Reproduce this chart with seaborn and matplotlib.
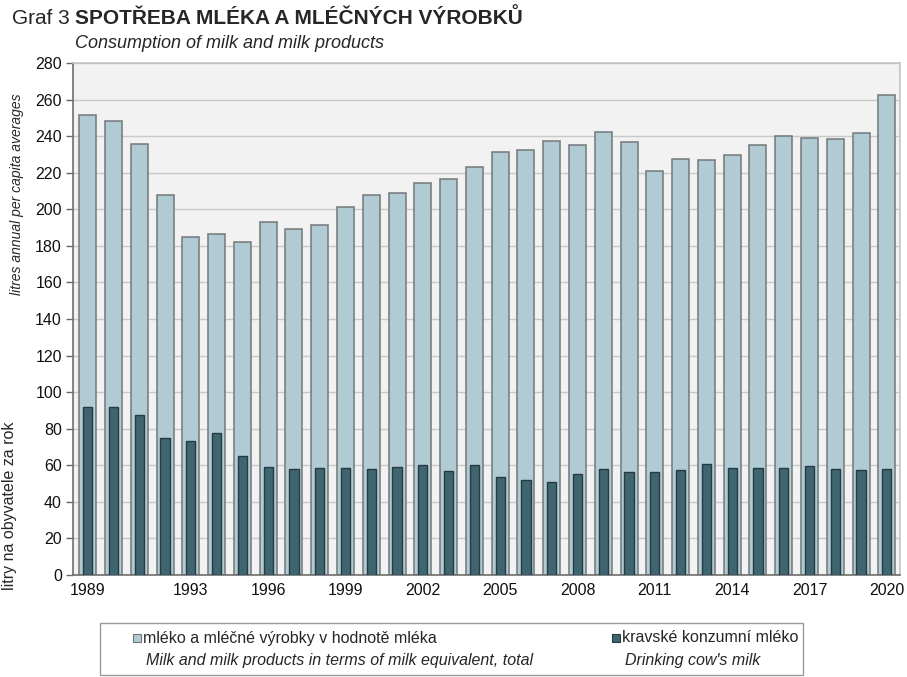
import matplotlib.pyplot as plt
import matplotlib.patches as mpatches
from matplotlib.ticker import FixedLocator, NullFormatter
import seaborn as sns
import pandas as pd

years = list(range(1989, 2021))
milk_total = [251.6, 248.4, 235.5, 207.6, 184.6, 186.2, 182.0, 193.0, 189.4, 191.2,
              201.1, 207.6, 208.7, 214.1, 216.7, 222.9, 231.3, 232.2, 237.3, 235.3,
              242.2, 236.8, 221.0, 227.6, 227.2, 229.5, 235.1, 240.0, 239.0, 238.5,
              241.8, 262.6]
drinking_milk = [91.7, 91.7, 87.7, 74.7, 73.0, 77.8, 65.0, 58.9, 58.0, 58.5,
                 58.4, 57.7, 58.8, 60.4, 56.7, 60.0, 53.8, 52.2, 50.7, 55.3,
                 58.2, 56.2, 56.2, 57.3, 60.6, 58.4, 58.6, 58.6, 59.5, 57.9,
                 57.3, 57.7]
shown_years = [1989, 1993, 1996, 1999, 2002, 2005, 2008, 2011, 2014, 2017, 2020]

label_total_cz = 'mléko a mléčné výrobky v hodnotě mléka'
label_total_en = 'Milk and milk products in terms of milk equivalent, total'
label_drink_cz = 'kravské konzumní mléko'
label_drink_en = "Drinking cow's milk"

light = '#b1cbd4'
dark = '#3e6570'

df = pd.DataFrame({'year': [str(y) for y in years],
                   'total': milk_total, 'drink': drinking_milk})

sns.set_style('white')
plt.rcParams['font.family'] = ['Liberation Sans', 'DejaVu Sans']

fig = plt.figure(figsize=(9.07, 6.77), dpi=100)
ax = fig.add_axes([0.0805, 0.1507, 0.9115, 0.7563])
ax.set_facecolor('#f2f2f2')

sns.barplot(data=df, x='year', y='total', color=light, width=0.66,
            edgecolor='#737879', linewidth=1.1, saturation=1, ax=ax, zorder=2)
sns.barplot(data=df, x='year', y='drink', color=dark, width=0.36,
            edgecolor='#263a40', linewidth=1.0, saturation=1, ax=ax, zorder=3)

ax.set_ylim(0, 280)
ax.set_yticks(range(0, 281, 20))
ax.set_xlim(-0.57, 31.5)
ax.grid(axis='y', color='#c9c9c9', linewidth=1, zorder=0)
ax.set_axisbelow(True)

# labels only for selected years, tick marks at bar boundaries
ax.set_xticks([years.index(y) for y in shown_years])
ax.set_xticklabels([str(y) for y in shown_years])
ax.xaxis.set_minor_locator(FixedLocator([i - 0.5 for i in range(len(years) + 1)]))
ax.xaxis.set_minor_formatter(NullFormatter())
ax.tick_params(axis='x', which='major', length=0, labelsize=11.5, pad=6, labelcolor='#111111')
ax.tick_params(axis='x', which='minor', length=5, width=1, color='#666666', direction='out')
ax.tick_params(axis='y', length=5, width=1, color='#666666', labelsize=11.5, pad=3,
               labelcolor='#111111', left=True)
ax.set_xlabel('')
ax.set_ylabel('')

for side in ['left', 'bottom']:
    ax.spines[side].set_color('#6f6f6f')
    ax.spines[side].set_linewidth(1.2)
for side in ['top', 'right']:
    ax.spines[side].set_visible(True)
    ax.spines[side].set_color('#c4c4c4')
    ax.spines[side].set_linewidth(1.2)

# titles
fig.text(12 / 907, 1 - 18 / 677, 'Graf 3 ', fontsize=15, va='center', ha='left')
fig.text(75 / 907, 1 - 18 / 677, 'SPOTŘEBA MLÉKA A MLÉČNÝCH VÝROBKŮ', fontsize=15,
         fontweight='bold', va='center', ha='left')
fig.text(75 / 907, 1 - 43 / 677, 'Consumption of milk and milk products', fontsize=13,
         style='italic', va='center', ha='left')

# y axis labels
fig.text(10 / 907, 1 - 506 / 677, 'litry na obyvatele za rok', fontsize=11.5,
         rotation=90, va='center', ha='center')
fig.text(17 / 907, 1 - 194 / 677, 'litres annual per capita averages', fontsize=10,
         style='italic', rotation=90, va='center', ha='center')

# legend box
fig.patches.append(mpatches.Rectangle((100 / 907, 2 / 677), 703 / 907, 52 / 677,
                                      transform=fig.transFigure, facecolor='white',
                                      edgecolor='#9a9a9a', linewidth=1))
for sx, col, ec, t1, t2 in [(133, light, '#6f7476', label_total_cz, label_total_en),
                            (612, dark, '#263a40', label_drink_cz, label_drink_en)]:
    fig.patches.append(mpatches.Rectangle((sx / 907, 1 - 642 / 677), 8 / 907, 8 / 677,
                                          transform=fig.transFigure, facecolor=col,
                                          edgecolor=ec, linewidth=0.8))
    fig.text((sx + 10) / 907, 1 - 638 / 677, t1, fontsize=11.5, va='center', ha='left')
    fig.text((sx + 13) / 907, 1 - 661 / 677, t2, fontsize=11.5, style='italic',
             va='center', ha='left')

fig.savefig('out.png', dpi=100)
